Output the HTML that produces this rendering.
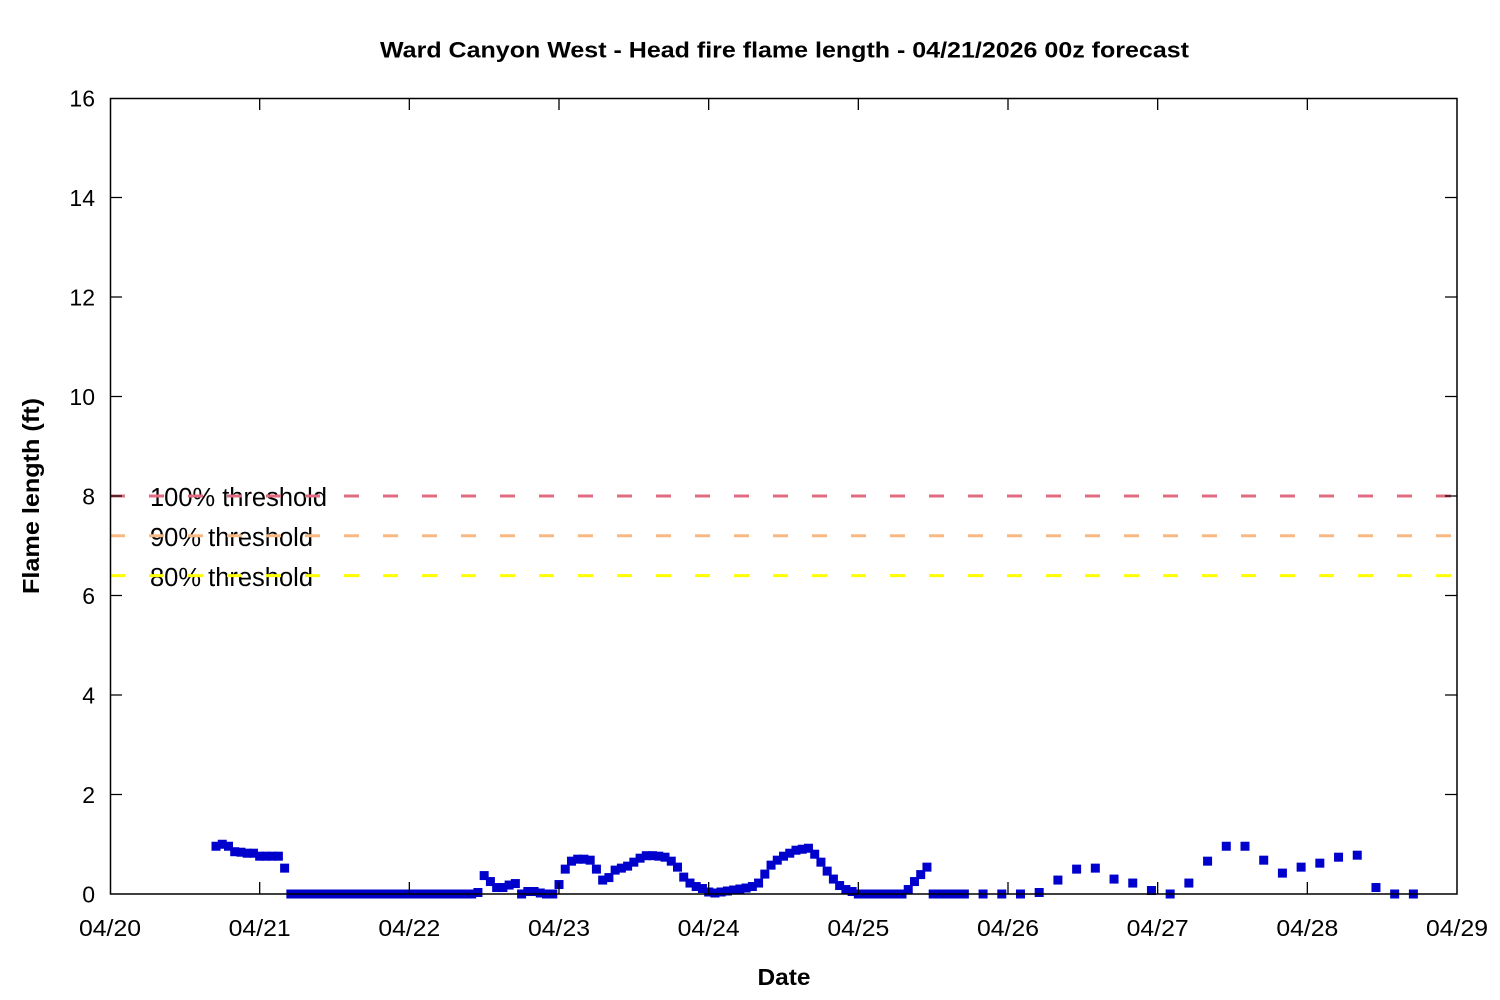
<!DOCTYPE html>
<html>
<head>
<meta charset="utf-8">
<style>
html,body{margin:0;padding:0;background:#fff;}
svg{display:block;}
text{font-family:"Liberation Sans",sans-serif;fill:#000;}
</style>
</head>
<body>
<svg width="1500" height="1000" viewBox="0 0 1500 1000" xmlns="http://www.w3.org/2000/svg">
<defs>
<marker id="sq" viewBox="0 0 1 1" preserveAspectRatio="none" markerUnits="userSpaceOnUse" markerWidth="1.443" markerHeight="0.1809" refX="0.5" refY="0.5" orient="0" overflow="visible">
<rect x="0" y="0" width="1" height="1" fill="#0000cc"/>
</marker>
</defs>
<rect x="0" y="0" width="1500" height="1000" fill="#fff"/>

<text x="380" y="57.5" font-size="22" font-weight="bold" textLength="809" lengthAdjust="spacingAndGlyphs">Ward Canyon West - Head fire flame length - 04/21/2026 00z forecast</text>
<text transform="translate(39,496) rotate(-90)" text-anchor="middle" font-size="23" font-weight="bold" textLength="196" lengthAdjust="spacingAndGlyphs">Flame length (ft)</text>
<text x="784" y="985" text-anchor="middle" font-size="23" font-weight="bold" textLength="53" lengthAdjust="spacingAndGlyphs">Date</text>

<g font-size="23" text-anchor="end">
<text x="95" y="902.3">0</text>
<text x="95" y="802.8">2</text>
<text x="95" y="703.3">4</text>
<text x="95" y="603.8">6</text>
<text x="95" y="504.3">8</text>
<text x="95" y="404.8">10</text>
<text x="95" y="305.3">12</text>
<text x="95" y="205.8">14</text>
<text x="95" y="106.3">16</text>
</g>

<g font-size="23" text-anchor="middle">
<text x="110" y="936" textLength="62" lengthAdjust="spacingAndGlyphs">04/20</text>
<text x="259.67" y="936" textLength="62" lengthAdjust="spacingAndGlyphs">04/21</text>
<text x="409.33" y="936" textLength="62" lengthAdjust="spacingAndGlyphs">04/22</text>
<text x="559" y="936" textLength="62" lengthAdjust="spacingAndGlyphs">04/23</text>
<text x="708.67" y="936" textLength="62" lengthAdjust="spacingAndGlyphs">04/24</text>
<text x="858.33" y="936" textLength="62" lengthAdjust="spacingAndGlyphs">04/25</text>
<text x="1008" y="936" textLength="62" lengthAdjust="spacingAndGlyphs">04/26</text>
<text x="1157.67" y="936" textLength="62" lengthAdjust="spacingAndGlyphs">04/27</text>
<text x="1307.33" y="936" textLength="62" lengthAdjust="spacingAndGlyphs">04/28</text>
<text x="1457" y="936" textLength="62" lengthAdjust="spacingAndGlyphs">04/29</text>
</g>

<g font-size="25.5">
<text x="150" y="506" textLength="177" lengthAdjust="spacingAndGlyphs">100% threshold</text>
<text x="150" y="546" textLength="163" lengthAdjust="spacingAndGlyphs">90% threshold</text>
<text x="150" y="586" textLength="163" lengthAdjust="spacingAndGlyphs">80% threshold</text>
</g>

<g stroke-width="3" fill="none" stroke-dasharray="15 24">
<line x1="110" y1="496" x2="1457" y2="496" stroke="#e06c81"/>
<line x1="110" y1="535.8" x2="1457" y2="535.8" stroke="#f8b883"/>
<line x1="110" y1="575.6" x2="1457" y2="575.6" stroke="#ffff00"/>
</g>

<g transform="translate(216.016,894) scale(6.23625,-49.75)">
<polyline fill="none" stroke="none" marker-start="url(#sq)" marker-mid="url(#sq)" marker-end="url(#sq)" points="0,.96 1,1 2,.96 3,.85 4,.84 5,.82 6,.82 7,.76 8,.76 9,.76 10,.76 11,.52 12,0 13,0 14,0 15,0 16,0 17,0 18,0 19,0 20,0 21,0 22,0 23,0 24,0 25,0 26,0 27,0 28,0 29,0 30,0 31,0 32,0 33,0 34,0 35,0 36,0 37,0 38,0 39,0 40,0 41,0 42,.03 43,.37 44,.25 45,.13 46,.13 47,.18 48,.21 49,0 50,.05 51,.05 52,.02 53,0 54,0 55,.19 56,.5 57,.66 58,.7 59,.7 60,.68 61,.5 62,.28 63,.33 64,.48 65,.52 66,.56 67,.64 68,.72 69,.77 70,.77 71,.76 72,.74 73,.66 74,.54 75,.34 76,.22 77,.15 78,.11 79,.04 80,.02 81,.04 82,.06 83,.08 84,.1 85,.12 86,.15 87,.22 88,.4 89,.58 90,.68 91,.76 92,.82 93,.88 94,.9 95,.92 96,.8 97,.64 98,.46 99,.3 100,.17 101,.09 102,.05 103,0 104,0 105,0 106,0 107,0 108,0 109,0 110,0 111,.09 112,.25 113,.39 114,.54 115,0 116,0 117,0 118,0 119,0 120,0 123,0 126,0 129,0 132,.03 135,.28 138,.5 141,.52 144,.3 147,.22 150,.07 153,0 156,.22 159,.66 162,.96 165,.96 168,.68 171,.42 174,.54 177,.62 180,.74 183,.78 186,.13 189,0 192,0"/>
</g>

<g stroke="#000" stroke-width="1.3" fill="none">
<path d="M259.67 894V882M409.33 894V882M559 894V882M708.67 894V882M858.33 894V882M1008 894V882M1157.67 894V882M1307.33 894V882"/>
<path d="M259.67 98V110M409.33 98V110M559 98V110M708.67 98V110M858.33 98V110M1008 98V110M1157.67 98V110M1307.33 98V110"/>
<path d="M110 794.5H122M110 695H122M110 595.5H122M110 496H122M110 396.5H122M110 297H122M110 197.5H122"/>
<path d="M1457 794.5H1445M1457 695H1445M1457 595.5H1445M1457 496H1445M1457 396.5H1445M1457 297H1445M1457 197.5H1445"/>
</g>

<rect x="110.5" y="98.5" width="1346.5" height="795.5" fill="none" stroke="#000" stroke-width="1.5"/>
</svg>
</body>
</html>
